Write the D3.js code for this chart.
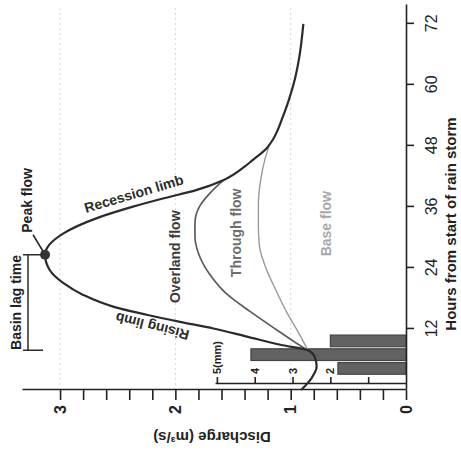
<!DOCTYPE html>
<html>
<head>
<meta charset="utf-8">
<script src="https://cdn.jsdelivr.net/npm/d3@7"></script>
<style>
  body { margin: 0; background: #fff; }
  svg { display: block; font-family: "Liberation Sans", Arial, sans-serif; }
</style>
</head>
<body>
<div id="chart"></div>
<script>
// storm hydrograph (hours from start of storm, discharge m3/s)
const stormHours = [0, 2.3, 4.6, 6.4, 7.8, 8.9, 10.5, 12.1, 13.4, 14.8, 16.4, 18.7, 21.0, 23.6, 26.6, 30.8, 33.8, 35.9, 37.7, 39.3, 41.3, 43.9, 45.2, 47.5, 49.2, 51, 53, 57.1, 61, 65.5, 72];
const discharge = [0.91, 0.82, 0.775, 0.79, 0.85, 1.09, 1.38, 1.67, 1.96, 2.25, 2.54, 2.80, 2.97, 3.09, 3.13, 2.97, 2.68, 2.39, 2.10, 1.82, 1.58, 1.40, 1.33, 1.21, 1.155, 1.115, 1.08, 1.015, 0.965, 0.925, 0.89];

// top of the through flow (overland flow sits above this line)
const overlandHours = [7.8, 9.2, 11.8, 15.4, 19.0, 23.0, 26.9, 30.2, 32.8, 36.1, 38.7, 41.3];
const overlandTop = [0.85, 0.95, 1.12, 1.35, 1.56, 1.71, 1.80, 1.83, 1.83, 1.79, 1.70, 1.58];

// top of the base flow (through flow sits above this line)
const throughHours = [7.8, 11.2, 15.1, 19.7, 24.3, 28.2, 32.1, 36.7, 41.3, 45.2, 48.2];
const throughTop = [0.85, 0.93, 1.03, 1.13, 1.22, 1.27, 1.28, 1.28, 1.26, 1.225, 1.185];

// rainfall bars
const rainStart = [2.9, 5.6, 8.3];
const rainMm = [1.8, 4.1, 2.0];
const rainHours = 2.7;

const hourTicks = [12, 24, 36, 48, 60, 72];
const dischargeTicks = d3.range(0, 16).map(i => i / 5);
const rainTicks = [1, 2, 3, 4, 5];

const lagStartHour = 7.8;

const width = 461, height = 457;

const svg = d3.select("#chart").append("svg")
  .attr("width", width)
  .attr("height", height);

// the figure is printed turned a quarter turn: draw it upright, then rotate the group
const g = svg.append("g")
  .attr("transform", `translate(0,${height}) rotate(-90)`);

const x = d3.scaleLinear().domain([0, 75.7]).range([67, 452]);
const y = d3.scaleLinear().domain([0, 3.33]).range([406, 22]);
const rain = d3.scaleLinear().domain([0, 5.05]).range([406, 215]);

// faint grid
g.selectAll(".grid")
  .data([1, 2, 3])
  .join("line")
  .attr("class", "grid")
  .attr("x1", x(0)).attr("x2", x(75.7))
  .attr("y1", d => y(d)).attr("y2", d => y(d))
  .attr("stroke", "#d6d6d6")
  .attr("stroke-dasharray", "2,3");

// rainfall bars
g.selectAll(".rain")
  .data(rainMm)
  .join("rect")
  .attr("class", "rain")
  .attr("x", (d, i) => x(rainStart[i] + 0.2))
  .attr("width", (d, i) => x(rainStart[i] + rainHours - 0.2) - x(rainStart[i] + 0.2))
  .attr("y", d => rain(d))
  .attr("height", d => rain(0) - rain(d))
  .attr("fill", "#626262")
  .attr("stroke", "#444")
  .attr("stroke-width", 1.2);

// axes
const xAxis = g.append("g")
  .attr("transform", `translate(0,${y(0)})`)
  .call(d3.axisBottom(x).tickValues(hourTicks).tickSize(8).tickPadding(12).tickSizeOuter(0));
xAxis.selectAll("text").attr("font-size", 16).attr("fill", "#222");

const yAxis = g.append("g")
  .attr("transform", `translate(${x(0)},0)`)
  .call(d3.axisLeft(y).tickValues(dischargeTicks).tickSize(10).tickPadding(5).tickSizeOuter(0)
    .tickFormat(d => Number.isInteger(d) ? d : ""));
yAxis.selectAll("text").attr("font-size", 16).attr("font-weight", "bold").attr("fill", "#222");

const rAxis = g.append("g")
  .attr("transform", `translate(${x(0) + 6},0)`)
  .call(d3.axisRight(rain).tickValues(rainTicks).tickSize(7).tickPadding(3).tickSizeOuter(0)
    .tickFormat(d => d === 1 ? "" : d === 5 ? "5(mm)" : d));
rAxis.selectAll("text").attr("font-size", 11).attr("font-weight", "bold").attr("fill", "#222");

g.selectAll(".domain, .tick line").attr("stroke", "#222").attr("stroke-width", 1.6);

// axis titles
g.append("text")
  .attr("x", 233).attr("y", 456)
  .attr("text-anchor", "middle")
  .attr("font-size", 15).attr("font-weight", "bold").attr("fill", "#222")
  .text("Hours from start of rain storm");

g.append("text")
  .attr("transform", "translate(25,212) rotate(-90)")
  .attr("text-anchor", "middle")
  .attr("font-size", 15).attr("font-weight", "bold").attr("fill", "#222")
  .text("Discharge (m³/s)");

// flow curves
const line = d3.line()
  .x(d => x(d[0]))
  .y(d => y(d[1]))
  .curve(d3.curveMonotoneX);

g.append("path")
  .datum(throughHours.map((h, i) => [h, throughTop[i]]))
  .attr("d", line)
  .attr("fill", "none")
  .attr("stroke", "#9a9a9a")
  .attr("stroke-width", 1.4);

g.append("path")
  .datum(overlandHours.map((h, i) => [h, overlandTop[i]]))
  .attr("d", line)
  .attr("fill", "none")
  .attr("stroke", "#5c5c5c")
  .attr("stroke-width", 1.7);

g.append("path")
  .datum(stormHours.map((h, i) => [h, discharge[i]]))
  .attr("d", line)
  .attr("fill", "none")
  .attr("stroke", "#2b2b2b")
  .attr("stroke-width", 2.2);

// peak flow
const peakIdx = d3.maxIndex(discharge);
const px = x(stormHours[peakIdx]), py = y(discharge[peakIdx]);

g.append("line")
  .attr("x1", px).attr("y1", py)
  .attr("x2", px + 20).attr("y2", py - 12)
  .attr("stroke", "#2b2b2b").attr("stroke-width", 1.6);

g.append("circle")
  .attr("cx", px).attr("cy", py).attr("r", 5)
  .attr("fill", "#333");

g.append("text")
  .attr("x", px + 22).attr("y", py - 13)
  .attr("font-size", 14).attr("font-weight", "bold").attr("fill", "#222")
  .text("Peak flow");

// basin lag time bracket
const lx0 = x(lagStartHour);
g.append("path")
  .attr("d", `M${lx0},23V43M${lx0},28H${px}M${px},23V43`)
  .attr("fill", "none")
  .attr("stroke", "#2b2b2b").attr("stroke-width", 1.5);

g.append("text")
  .attr("x", (lx0 + px) / 2).attr("y", 21)
  .attr("text-anchor", "middle")
  .attr("font-size", 14).attr("font-weight", "bold").attr("fill", "#222")
  .text("Basin lag time");

// curve labels: [hour, discharge, angle, text, colour]
const labels = [
  [38.6, 2.36, 73.6, "Recession limb", "#2b2b2b"],
  [12.5, 2.2, -76, "Rising limb", "#2b2b2b"],
  [26.2, 2.0, 0, "Overland flow", "#3a3a3a"],
  [30.9, 1.47, 0, "Through flow", "#6e6e6e"],
  [32.7, 0.69, 0, "Base flow", "#a8a8a8"]
];

g.selectAll(".lbl")
  .data(labels)
  .join("text")
  .attr("class", "lbl")
  .attr("transform", d => `translate(${x(d[0])},${y(d[1])}) rotate(${d[2]})`)
  .attr("text-anchor", "middle")
  .attr("dy", "0.35em")
  .attr("font-size", 14).attr("font-weight", "bold")
  .attr("fill", d => d[4])
  .text(d => d[3]);
</script>
</body>
</html>
